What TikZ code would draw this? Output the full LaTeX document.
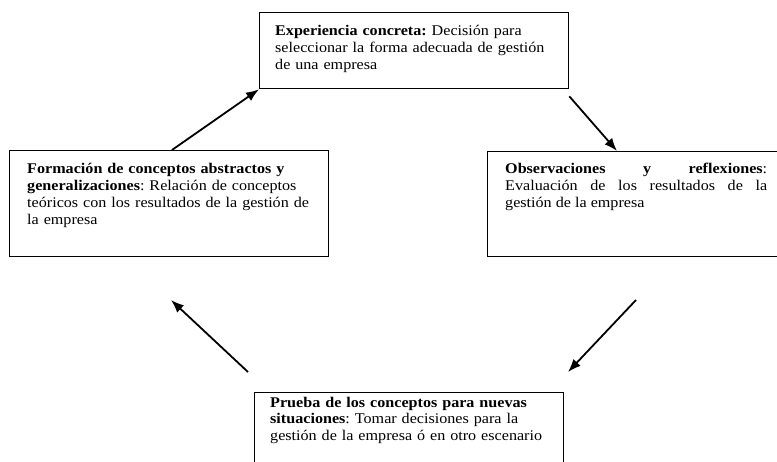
\documentclass[tikz,border=0pt]{standalone}
\usepackage{fontspec}
\setmainfont{Liberation Serif}[FakeStretch=1.09]
\usepackage{tikz}
\usetikzlibrary{positioning,arrows,arrows.meta}
\frenchspacing

\begin{document}
\begin{tikzpicture}[x=1pt,y=-1pt]
\tikzstyle{blk}=[draw, line width=1.3pt, inner sep=0pt, anchor=north west]
\tikzstyle{txt}=[anchor=base west, inner sep=0pt, align=left, text width=340pt, font=\fontsize{14.8}{17}\selectfont]
\tikzstyle{arr}=[line width=1.8pt, -{Latex[length=13pt,width=10pt]}]

\useasboundingbox (0,0) rectangle (777,462);
\clip (0,0) rectangle (777,462);

\node[blk, minimum width=309pt, minimum height=76pt] (exp) at (259,12) {};
\node[blk, minimum width=319pt, minimum height=106pt] (form) at (9,150) {};
\node[blk, minimum width=310pt, minimum height=105pt] (obs) at (487,151) {};
\node[blk, minimum width=309pt, minimum height=100pt] (pru) at (254,392) {};

\node[txt] (texp) at (275,36) {\textbf{Experiencia concreta:} Decisión para\\
seleccionar la forma adecuada de gestión\\ de una empresa};
\node[txt] (tform) at (27,174) {\textbf{Formación de conceptos abstractos y}\\
\textbf{generalizaciones}: Relación de conceptos\\
teóricos con los resultados de la gestión de\\ la empresa};
\node[txt, text width=262pt, align=justify] (tobs) at (505,174) {\textbf{Observaciones y reflexiones}:
\linebreak Evaluación de los resultados de la \linebreak gestión de la empresa};
\node[txt] (tpru) at (270,407) {\textbf{Prueba de los conceptos para nuevas}\\
\textbf{situaciones}: Tomar decisiones para la\\
gestión de la empresa ó en otro escenario};

\coordinate (p1) at (636,300);
\coordinate (p2) at (568,372);
\coordinate (p3) at (248,372);
\coordinate (p4) at (171,300);

\draw[arr] ([xshift=163pt]form.north west) -- (exp.south west);
\draw[arr] ([yshift=-7pt]exp.south east) -- ([xshift=130pt]obs.north west);
\draw[arr] (p1) -- (p2);
\draw[arr] (p3) -- (p4);
\end{tikzpicture}
\end{document}
